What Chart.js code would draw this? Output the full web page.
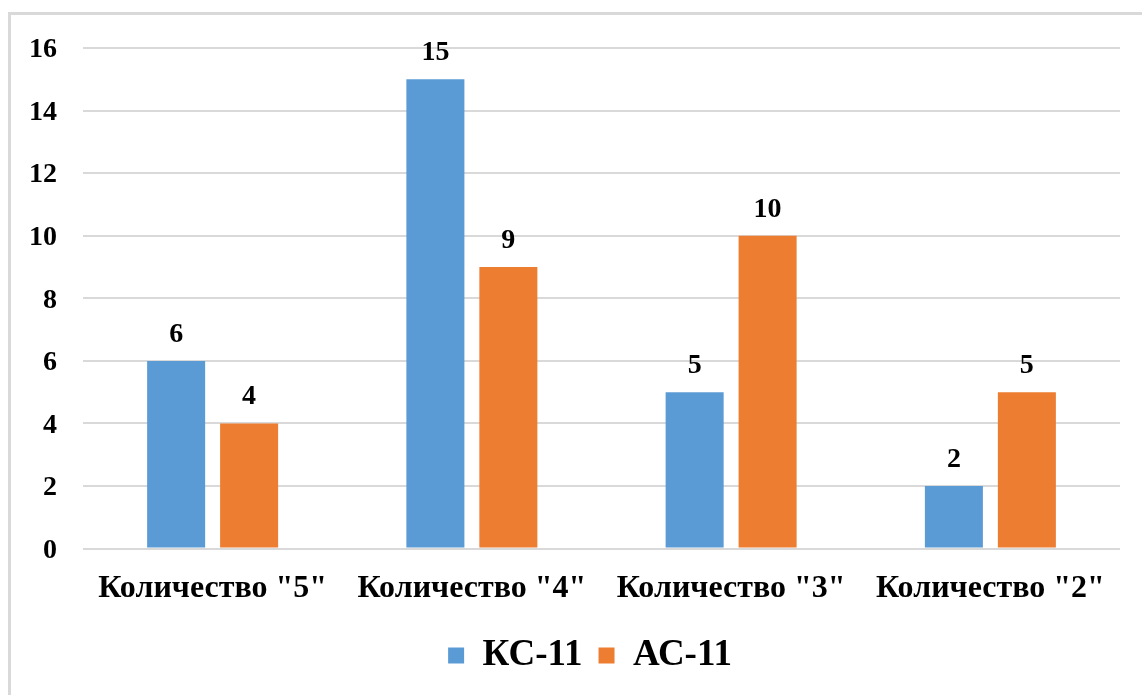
<!DOCTYPE html>
<html>
<head>
<meta charset="utf-8">
<script src="https://cdn.jsdelivr.net/npm/chart.js@4"></script>
<style>
  html, body { margin: 0; padding: 0; background: #fff; overflow: hidden; }
  #frame {
    position: absolute; left: 8px; top: 12px;
    width: 1200px; height: 760px;
    border: 3px solid #d9d9d9;
  }
  #wrap { position: absolute; left: 0; top: 0; width: 1142px; height: 695px; }
</style>
</head>
<body>
<div id="frame"></div>
<div id="wrap"><canvas id="chart" width="1142" height="695"></canvas></div>
<script>
const categories = ['Количество "5"', 'Количество "4"', 'Количество "3"', 'Количество "2"'];
const seriesNames = ["КС-11", "АС-11"];
const ks11 = [6, 15, 5, 2];
const as11 = [4, 9, 10, 5];
const yTicks = [0, 2, 4, 6, 8, 10, 12, 14, 16];

const FONT = "'Liberation Serif', 'Times New Roman', serif";

// value labels above each bar
const barLabels = {
  id: "barLabels",
  afterDatasetsDraw(chart) {
    const ctx = chart.ctx;
    ctx.save();
    ctx.font = "bold 28px " + FONT;
    ctx.fillStyle = "#000";
    ctx.textAlign = "center";
    ctx.textBaseline = "alphabetic";
    chart.data.datasets.forEach((ds, i) => {
      chart.getDatasetMeta(i).data.forEach((bar, j) => {
        ctx.fillText(String(ds.data[j]), bar.x, bar.y - 19);
      });
    });
    ctx.restore();
  },
};

// the original chart is wider than the crop, so its legend sits a bit right of centre
const legendShift = {
  id: "legendShift",
  afterLayout(chart) {
    if (chart.legend) {
      chart.legend.left += 30;
      chart.legend.right += 30;
    }
  },
};

const ctx = document.getElementById("chart").getContext("2d");
new Chart(ctx, {
  type: "bar",
  data: {
    labels: categories,
    datasets: [
      {
        label: seriesNames[0],
        data: ks11,
        backgroundColor: "#5b9bd5",
        barPercentage: 0.795,
        categoryPercentage: 0.563,
      },
      {
        label: seriesNames[1],
        data: as11,
        backgroundColor: "#ed7d31",
        barPercentage: 0.795,
        categoryPercentage: 0.563,
      },
    ],
  },
  options: {
    responsive: false,
    animation: false,
    devicePixelRatio: 1,
    layout: { padding: { top: 48, right: 22, left: 0, bottom: 11 } },
    scales: {
      x: {
        grid: { display: false },
        border: { display: false },
        ticks: {
          color: "#000",
          padding: 13,
          font: { family: FONT, size: 32, weight: "bold" },
        },
      },
      y: {
        min: 0,
        max: 16,
        afterFit(scale) { scale.width = 83; },
        afterBuildTicks(scale) { scale.ticks = yTicks.map((v) => ({ value: v })); },
        grid: { color: "#d9d9d9", lineWidth: 2, drawTicks: false },
        border: { display: false },
        ticks: {
          color: "#000",
          padding: 26,
          labelOffset: 2,
          font: { family: FONT, size: 28, weight: "bold" },
        },
      },
    },
    plugins: {
      tooltip: { enabled: false },
      legend: {
        position: "bottom",
        labels: {
          boxWidth: 16,
          boxHeight: 16,
          padding: 16,
          color: "#000",
          font: { family: FONT, size: 37, weight: "bold" },
        },
      },
    },
  },
  plugins: [barLabels, legendShift],
});
</script>
</body>
</html>
